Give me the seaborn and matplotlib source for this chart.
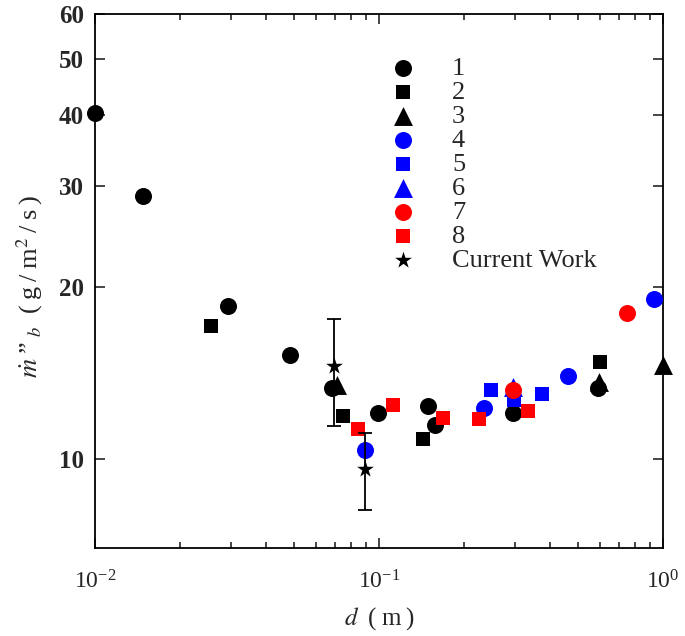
import numpy as np
import pandas as pd
import matplotlib
matplotlib.use("Agg")
import matplotlib.pyplot as plt
import matplotlib.ticker as mticker
import seaborn as sns

# ---- data ----
s1_x = [0.0100, 0.0147, 0.0295, 0.0486, 0.0681, 0.0990, 0.1484, 0.1574, 0.297, 0.589]
s1_y = [40.3, 28.8, 18.5, 15.2, 13.3, 12.05, 12.4, 11.5, 12.05, 13.3]
s2_x = [0.0256, 0.0749, 0.1432, 0.600]
s2_y = [17.1, 11.9, 10.87, 14.8]
s3_x = [0.0711, 0.597, 1.0]
s3_y = [13.5, 13.65, 14.6]
s4_x = [0.0895, 0.235, 0.464, 0.93]
s4_y = [10.4, 12.3, 13.97, 19.05]
s5_x = [0.248, 0.299, 0.374]
s5_y = [13.2, 12.7, 13.0]
s6_x = [0.297]
s6_y = [13.4]
s7_x = [0.297, 0.749]
s7_y = [13.2, 18.05]
s8_x = [0.0841, 0.1123, 0.1684, 0.2244, 0.336]
s8_y = [11.3, 12.46, 11.83, 11.75, 12.13]
cw_x = [0.0696, 0.0895]
cw_y = [14.55, 9.63]
cw_hi = [17.6, 11.13]
cw_lo = [11.43, 8.15]

series_labels = ["1", "2", "3", "4", "5", "6", "7", "8", "Current Work"]
y_ticks = [10, 20, 30, 40, 50, 60]
y_tick_labels = ["10", "20", "30", "40", "50", "60"]
x_ticks = [0.01, 0.1, 1.0]
x_tick_labels = [r"$\mathregular{10^{-2}}$", r"$\mathregular{10^{-1}}$", r"$\mathregular{10^{0}}$"]

# ---- style ----
sns.set_style("ticks")
plt.rcParams["font.family"] = ["Liberation Serif", "DejaVu Serif"]
plt.rcParams["mathtext.fontset"] = "stix"

fig = plt.figure(figsize=(6.85, 6.36), dpi=100)
ax = fig.add_axes([95 / 685, 1 - 548 / 636, (663 - 95) / 685, (548 - 14) / 636])

groups = [
    (s1_x, s1_y, "o", "black", 150),
    (s2_x, s2_y, "s", "black", 115),
    (s3_x, s3_y, "^", "black", 185),
    (s4_x, s4_y, "o", "blue", 150),
    (s5_x, s5_y, "s", "blue", 115),
    (s6_x, s6_y, "^", "blue", 185),
    (s7_x, s7_y, "o", "red", 150),
    (s8_x, s8_y, "s", "red", 115),
]
for (gx, gy, mk, col, sz), lab in zip(groups, series_labels[:8]):
    df = pd.DataFrame({"d": gx, "m": gy})
    sns.scatterplot(data=df, x="d", y="m", marker=mk, color=col, s=sz,
                    linewidth=0, ax=ax, label=lab, zorder=3, clip_on=False)

cw = pd.DataFrame({"d": cw_x, "m": cw_y})
yerr = np.array([np.array(cw_y) - np.array(cw_lo), np.array(cw_hi) - np.array(cw_y)])
ax.errorbar(cw_x, cw_y, yerr=yerr, fmt="none", ecolor="black", elinewidth=1.3,
            capsize=5, capthick=1.3, zorder=4)
sns.scatterplot(data=cw, x="d", y="m", marker="*", color="black", s=160,
                linewidth=0, ax=ax, label=series_labels[8], zorder=5)

ax.set_xscale("log")
ax.set_yscale("log")
ax.set_xlim(0.01, 1.0)
ax.set_ylim(7.0, 60.0)

ax.yaxis.set_major_locator(mticker.FixedLocator(y_ticks))
ax.yaxis.set_major_formatter(mticker.FixedFormatter(y_tick_labels))
ax.yaxis.set_minor_locator(mticker.NullLocator())
ax.xaxis.set_major_locator(mticker.FixedLocator(x_ticks))
ax.xaxis.set_major_formatter(mticker.FixedFormatter(x_tick_labels))
ax.xaxis.set_minor_locator(mticker.LogLocator(base=10, subs=np.arange(2, 10)))
ax.xaxis.set_minor_formatter(mticker.NullFormatter())

ax.tick_params(which="both", direction="in", top=True, right=True, width=1.2)
ax.tick_params(which="major", length=7)
ax.tick_params(which="minor", length=4)
ax.tick_params(axis="y", labelsize=18, pad=8)
ax.tick_params(axis="x", labelsize=17, pad=16)
for t in ax.get_yticklabels():
    t.set_fontweight("bold")
for sp in ax.spines.values():
    sp.set_linewidth(1.3)
    sp.set_color("black")

ts = "\u2009"
ax.set_xlabel(r"$d$" + ts + " (" + ts + "m" + ts + ")", fontsize=18)
ax.xaxis.set_label_coords(0.5, -0.107)
ylab = (r"$\dot{m}$" + ts + "”" + ts + r"$_b$" + ts + " (" + ts + "g" + ts + "/" + ts
        + "m" + r"$^2$" + ts + "/" + ts + "s" + ts + ")")
ax.set_ylabel(ylab, fontsize=19)
ax.yaxis.set_label_coords(-0.088, 0.49)

leg = ax.legend(loc="upper left", bbox_to_anchor=(0.477, 0.941), frameon=False,
                fontsize=19, handletextpad=0.86, labelspacing=0.02,
                borderaxespad=0, markerscale=1.0)

fig.savefig("out.png", dpi=100)
